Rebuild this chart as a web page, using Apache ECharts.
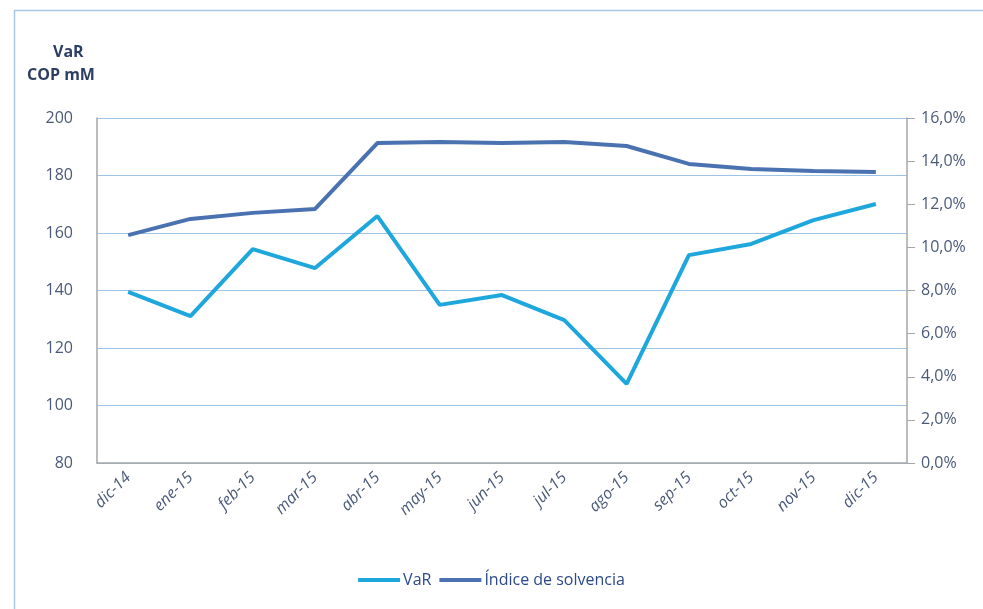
<!DOCTYPE html>
<html>
<head>
<meta charset="UTF-8">
<script src="https://cdn.jsdelivr.net/npm/echarts@6/dist/echarts.min.js"></script>
<title>VaR e Índice de solvencia</title>
<style>
  html, body { margin: 0; padding: 0; background: #fff; }
  #main { width: 983px; height: 609px; }
</style>
</head>
<body>
<div id="main"></div>
<script type="text/javascript">
// meses
var months = ['dic-14', 'ene-15', 'feb-15', 'mar-15', 'abr-15', 'may-15', 'jun-15',
              'jul-15', 'ago-15', 'sep-15', 'oct-15', 'nov-15', 'dic-15'];
// VaR en COP mM (eje izquierdo)
var varValues = [139.5, 131.1, 154.4, 147.8, 165.9, 135.0, 138.4, 129.7, 107.5, 152.3, 156.2, 164.5, 170.1];
// Índice de solvencia en % (eje derecho)
var solvencia = [10.57, 11.32, 11.6, 11.78, 14.84, 14.89, 14.84, 14.89, 14.7, 13.87, 13.63, 13.54, 13.5];

var leftTicks = { min: 80, max: 200, interval: 20 };
var rightTicks = { min: 0, max: 16, interval: 2 };

var labelColor = '#4a5a78';
var fontFam = '"Open Sans", "Noto Sans", sans-serif';

var myChart = echarts.init(document.getElementById('main'));

var option = {
  backgroundColor: '#ffffff',
  animation: false,
  graphic: [{
    type: 'rect',
    shape: { x: 14.5, y: 10.5, width: 990, height: 620 },
    style: { fill: 'none', stroke: '#a9c6e4', lineWidth: 1.5 },
    silent: true
  }, {
    type: 'text',
    left: 53, top: 44,
    style: {
      text: 'VaR', fill: '#2c3e63', fontSize: 16, fontWeight: 'bold',
      fontFamily: fontFam
    }
  }, {
    type: 'text',
    left: 27, top: 67,
    style: {
      text: 'COP mM', fill: '#2c3e63', fontSize: 16, fontWeight: 'bold',
      fontFamily: fontFam
    }
  }],
  grid: { left: 97, right: 76, top: 118, bottom: 146 },
  legend: {
    bottom: 16,
    left: 'center',
    itemWidth: 42,
    itemHeight: 4,
    itemGap: 8,
    icon: 'rect',
    textStyle: { color: '#2c4a8a', fontSize: 16, fontFamily: fontFam, padding: [0, 0, 0, -2] },
    data: ['VaR', 'Índice de solvencia']
  },
  xAxis: {
    type: 'category',
    data: months,
    boundaryGap: true,
    axisLine: { lineStyle: { color: '#a6a6a6', width: 1.5 } },
    axisTick: { show: false },
    axisLabel: {
      rotate: 45, interval: 0, color: labelColor, fontSize: 16,
      fontFamily: fontFam, fontStyle: 'italic', margin: 12
    }
  },
  yAxis: [{
    type: 'value',
    min: leftTicks.min, max: leftTicks.max, interval: leftTicks.interval,
    axisLine: { show: true, lineStyle: { color: '#a6a6a6', width: 1.5 } },
    axisTick: { show: false },
    splitLine: { lineStyle: { color: '#9dc3e6', width: 1 } },
    axisLabel: { color: labelColor, fontSize: 16, fontFamily: fontFam, margin: 24 }
  }, {
    type: 'value',
    position: 'right',
    min: rightTicks.min, max: rightTicks.max, interval: rightTicks.interval,
    axisLine: { show: true, lineStyle: { color: '#a6a6a6', width: 1.5 } },
    axisTick: { show: true, length: 8, lineStyle: { color: '#a6a6a6' } },
    splitLine: { show: false },
    axisLabel: {
      color: labelColor, fontSize: 16, fontFamily: fontFam, margin: 14,
      formatter: function (v) { return v.toFixed(1).replace('.', ',') + '%'; }
    }
  }],
  series: [{
    name: 'VaR',
    type: 'line',
    yAxisIndex: 0,
    data: varValues,
    symbol: 'none',
    color: '#1ea7dc',
    lineStyle: { width: 4, color: '#1ea7dc' }
  }, {
    name: 'Índice de solvencia',
    type: 'line',
    yAxisIndex: 1,
    data: solvencia,
    symbol: 'none',
    color: '#4a72b0',
    lineStyle: { width: 4, color: '#4a72b0' }
  }]
};
myChart.setOption(option);
</script>
</body>
</html>
